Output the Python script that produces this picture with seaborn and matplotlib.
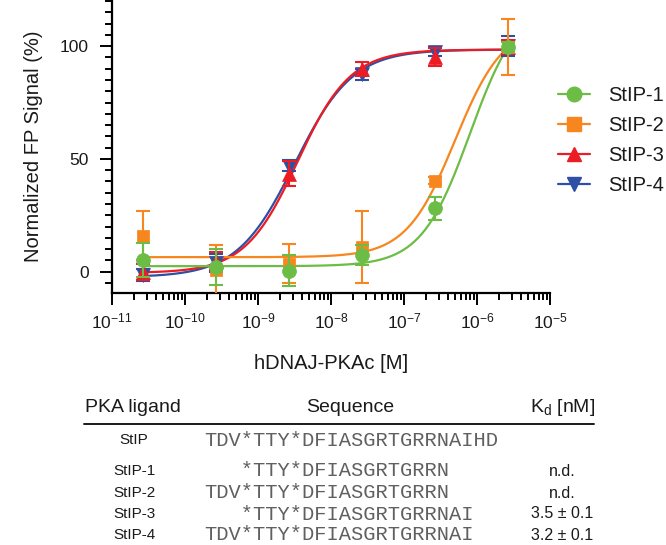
import numpy as np
import pandas as pd
import seaborn as sns
import matplotlib
matplotlib.use("Agg")
import matplotlib.pyplot as plt
from matplotlib.lines import Line2D
from matplotlib.ticker import LogLocator, MultipleLocator, NullFormatter

# ---------------- data ----------------
conc = [2.7e-11, 2.7e-10, 2.7e-9, 2.7e-8, 2.7e-7, 2.7e-6]
ligands = ["StIP-1", "StIP-2", "StIP-3", "StIP-4"]
colors = ["#6cbd45", "#f7861f", "#ec1c24", "#2e4fa3"]
markers = ["o", "s", "^", "v"]

stip1_mean = [5.2, 1.9, 0.4, 7.4, 28.1, 99.7]
stip1_err = [7.5, 8.0, 7.0, 4.5, 5.0, 2.0]
stip2_mean = [16.0, 0.6, 3.5, 10.8, 40.4, 99.7]
stip2_err = [11.0, 11.0, 8.6, 16.0, 1.5, 12.5]
stip3_mean = [-0.3, 4.5, 43.5, 90.0, 95.0, 99.7]
stip3_err = [3.5, 4.0, 5.5, 3.0, 4.0, 3.0]
stip4_mean = [-1.5, 4.0, 47.0, 87.5, 97.6, 100.0]
stip4_err = [2.5, 4.0, 2.5, 2.5, 2.0, 4.5]

# sigmoidal fit parameters
fit_bottom = [2.4, 6.4, -0.6, -2.5]
fit_top = [120.0, 110.0, 98.5, 98.5]
fit_ec50 = [8e-7, 5e-7, 3.5e-9, 3.2e-9]
fit_hill = [1.3, 1.3, 1.2, 1.1]

# table
tab_header = ["PKA ligand", "Sequence", "K$_\\mathregular{d}$ [nM]"]
tab_ligand = ["StIP", "StIP-1", "StIP-2", "StIP-3", "StIP-4"]
tab_seq = ["TDV*TTY*DFIASGRTGRRNAIHD", "   *TTY*DFIASGRTGRRN", "TDV*TTY*DFIASGRTGRRN",
           "   *TTY*DFIASGRTGRRNAI", "TDV*TTY*DFIASGRTGRRNAI"]
tab_kd = ["", "n.d.", "n.d.", "3.5 ± 0.1", "3.2 ± 0.1"]

# ---------------- frames ----------------
means = [stip1_mean, stip2_mean, stip3_mean, stip4_mean]
errs = [stip1_err, stip2_err, stip3_err, stip4_err]
pts = pd.concat([pd.DataFrame({"conc": conc, "signal": m, "err": e, "ligand": l})
                 for l, m, e in zip(ligands, means, errs)], ignore_index=True)

xfit = np.logspace(np.log10(conc[0]), np.log10(conc[-1]), 300)
curves = []
for l, b, t, ec, h in zip(ligands, fit_bottom, fit_top, fit_ec50, fit_hill):
    r = (xfit / ec) ** h
    curves.append(pd.DataFrame({"conc": xfit, "fit": b + (t - b) * r / (1 + r), "ligand": l}))
curves = pd.concat(curves, ignore_index=True)

# ---------------- style ----------------
sns.set_theme(style="ticks")
plt.rcParams["font.family"] = ["Liberation Sans", "DejaVu Sans"]
plt.rcParams["mathtext.fontset"] = "custom"
plt.rcParams["mathtext.rm"] = "Liberation Sans"
plt.rcParams["mathtext.it"] = "Liberation Sans:italic"
plt.rcParams["mathtext.default"] = "regular"

W, H = 666, 545
fig = plt.figure(figsize=(W / 100, H / 100), dpi=100)
ax = fig.add_axes([112 / W, 1 - 293 / H, (550 - 112) / W, 293 / H])

pal = dict(zip(ligands, colors))
mk = dict(zip(ligands, markers))
msize = {"StIP-1": 100, "StIP-2": 85, "StIP-3": 100, "StIP-4": 100}

draw_order = ["StIP-4", "StIP-3", "StIP-2", "StIP-1"]
for i, l in enumerate(draw_order):
    sub = curves[curves.ligand == l]
    sns.lineplot(data=sub, x="conc", y="fit", color=pal[l], lw=1.6, ax=ax,
                 legend=False, zorder=2 + i * 0.1)
for i, l in enumerate(draw_order):
    sub = pts[pts.ligand == l]
    ax.errorbar(sub.conc, sub.signal, yerr=sub.err, fmt="none", ecolor=pal[l],
                elinewidth=1.5, capsize=5, capthick=1.5, zorder=3 + i)
    sns.scatterplot(data=sub, x="conc", y="signal", color=pal[l], marker=mk[l],
                    s=msize[l], edgecolor=pal[l], linewidth=0.5, ax=ax,
                    legend=False, zorder=3.5 + i)

ax.set_xscale("log")
ax.set_xlim(1e-11, 1e-5)
ax.set_ylim(-9.5, 120.5)
ax.xaxis.set_major_locator(LogLocator(base=10, numticks=10))
ax.xaxis.set_minor_locator(LogLocator(base=10, subs=np.arange(2, 10), numticks=20))
ax.xaxis.set_minor_formatter(NullFormatter())
ax.yaxis.set_major_locator(MultipleLocator(50))
ax.yaxis.set_minor_locator(MultipleLocator(5))

for s in ["top", "right"]:
    ax.spines[s].set_visible(False)
for s in ["left", "bottom"]:
    ax.spines[s].set_linewidth(1.6)
    ax.spines[s].set_color("black")
ax.tick_params(axis="both", which="major", length=8.5, width=1.4, color="black",
               labelsize=12.5, labelcolor="#1a1a1a")
ax.tick_params(axis="both", which="minor", length=5, width=1.4, color="black")
ax.tick_params(axis="y", which="major", pad=8)
ax.tick_params(axis="x", which="major", pad=5)

ax.set_xlabel("hDNAJ-PKAc [M]", fontsize=14.5, color="#1a1a1a", labelpad=16)
ax.set_ylabel("Normalized FP Signal (%)", fontsize=14.5, color="#1a1a1a", labelpad=12)

handles = [Line2D([0], [0], color=c, marker=m, markersize=10.5 if m != "s" else 9.5,
                  lw=1.6, markeredgecolor=c) for c, m in zip(colors, markers)]
fig.legend(handles, ligands, loc="upper left", bbox_to_anchor=(558 / W, 1 - 86 / H),
           frameon=False, fontsize=14.5, handlelength=1.6, handletextpad=0.9,
           labelspacing=0.55, borderpad=0, borderaxespad=0, labelcolor="#1a1a1a")

# ---------------- table ----------------
def fx(x):
    return x / W

def fy(y):
    return 1 - y / H

txtc = "#1a1a1a"
fig.text(fx(133), fy(407), tab_header[0], ha="center", va="center", fontsize=14, color=txtc)
fig.text(fx(350), fy(407), tab_header[1], ha="center", va="center", fontsize=14, color=txtc)
fig.text(fx(563), fy(407), tab_header[2], ha="center", va="center", fontsize=14, color=txtc)
fig.add_artist(Line2D([fx(84), fx(594)], [fy(424), fy(424)], color="#1a1a1a", lw=1.4))

row_y = [440, 471, 493, 514, 535]
for y, lab, seq, kd in zip(row_y, tab_ligand, tab_seq, tab_kd):
    fig.text(fx(134), fy(y), lab, ha="center", va="center", fontsize=11, color=txtc)
    fig.text(fx(204), fy(y), seq, ha="left", va="center", fontsize=14.7,
             family="Liberation Mono", color="#606060")
    if kd:
        fig.text(fx(562), fy(y), kd, ha="center", va="center", fontsize=11.5, color=txtc)

fig.savefig("out.png", dpi=100)
